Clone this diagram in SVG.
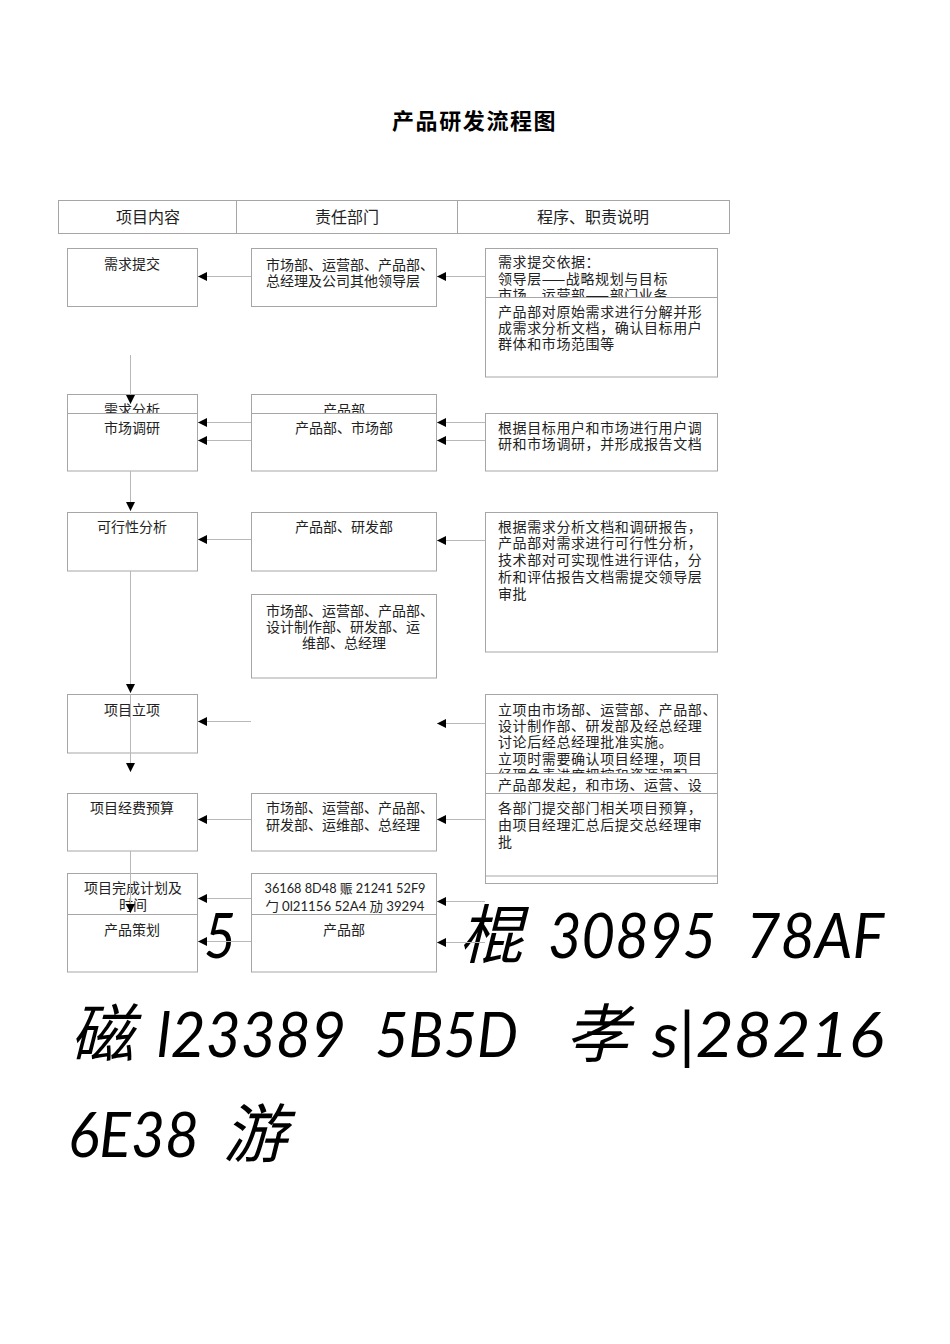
<svg xmlns="http://www.w3.org/2000/svg" width="950" height="1344" viewBox="0 0 950 1344">
<style>
.bg{fill:#fff}
.box{fill:#fff;stroke:#a6a6a6;stroke-width:1}
.hdr{fill:none;stroke:#a6a6a6;stroke-width:1}
.t{font-family:"Noto Sans CJK SC","Noto Sans",sans-serif;font-size:14px;fill:#222}
.tc{text-anchor:middle}
.p{letter-spacing:0.6px}
.h{font-family:"Noto Sans CJK SC","Noto Sans",sans-serif;font-size:16px;fill:#222;text-anchor:middle}
.title{font-family:"Noto Sans CJK SC",sans-serif;font-size:22px;font-weight:bold;fill:#000;letter-spacing:1.6px}
.code{font-family:Lato,"Noto Sans CJK SC",sans-serif;font-size:13px;fill:#222;text-anchor:middle}
.big{font-family:Lato,"Noto Sans CJK SC",sans-serif;font-size:62px;font-style:italic;fill:#000}
.bigc{font-family:"Noto Sans CJK SC",sans-serif;font-size:64px;font-style:italic;fill:#000}
.c{stroke:#b8b8b8;stroke-width:1;fill:none;marker-end:url(#ah)}
</style>
<defs>
<marker id="ah" viewBox="0 0 9 9" refX="9" refY="4.5" markerWidth="9" markerHeight="9" markerUnits="userSpaceOnUse" orient="auto">
<path d="M0,0 L9,4.5 L0,9 z" fill="#000"/>
</marker>
</defs>
<rect class="bg" x="0" y="0" width="950" height="1344"/>

<g id="title"><text class="title" x="392" y="129">产品研发流程图</text></g>

<g id="header">
<rect class="hdr" x="58.5" y="200.5" width="671" height="33"/>
<line class="hdr" x1="236.5" y1="200.5" x2="236.5" y2="233.5"/>
<line class="hdr" x1="457.5" y1="200.5" x2="457.5" y2="233.5"/>
<text class="h" x="148" y="223">项目内容</text>
<text class="h" x="347" y="223">责任部门</text>
<text class="h" x="593" y="223">程序、职责说明</text>
</g>

<g id="overflow-text">
<text class="big" x="172" y="958" textLength="64" lengthAdjust="spacingAndGlyphs">15</text>
<text class="bigc" x="459" y="958">棍</text>
<text class="big" x="548" y="958" textLength="168" lengthAdjust="spacingAndGlyphs">30895</text>
<text class="big" x="746" y="958" textLength="138" lengthAdjust="spacingAndGlyphs">78AF</text>
<text class="bigc" x="70" y="1057">磁</text>
<text class="big" x="157" y="1057" textLength="189" lengthAdjust="spacingAndGlyphs">l23389</text>
<text class="big" x="375" y="1057" textLength="143" lengthAdjust="spacingAndGlyphs">5B5D</text>
<text class="bigc" x="565" y="1057">孝</text>
<text class="big" x="652" y="1057" textLength="232" lengthAdjust="spacingAndGlyphs">s|28216</text>
<text class="big" x="68" y="1157" textLength="131" lengthAdjust="spacingAndGlyphs">6E38</text>
<text class="bigc" x="223" y="1157">游</text>
</g>

<g id="n-xuqiutijiao"><rect class="box" x="67.5" y="248.5" width="130" height="58"/><text class="t tc" x="132" y="269">需求提交</text></g>
<g id="d-row1"><rect class="box" x="251.5" y="248.5" width="185" height="58"/><text class="t" x="266" y="270">市场部、运营部、产品部、</text><text class="t" x="266" y="286">总经理及公司其他领导层</text></g>
<g id="p-row1a"><rect class="box" x="485.5" y="248.5" width="232" height="60"/><text class="t p" x="498" y="267">需求提交依据：</text><text class="t p" x="498" y="284">领导层——战略规划与目标</text><text class="t p" x="498" y="300">市场、运营部——部门业务</text></g>
<g id="p-row1b"><rect class="box" x="485.5" y="297.5" width="232" height="79.5"/><text class="t p" x="498" y="317">产品部对原始需求进行分解并形</text><text class="t p" x="498" y="333">成需求分析文档，确认目标用户</text><text class="t p" x="498" y="349">群体和市场范围等</text></g>

<g id="n-xuqiufenxi"><rect class="box" x="67.5" y="394.5" width="130" height="40"/><text class="t tc" x="132" y="415">需求分析</text></g>
<g id="n-shichangdiaoyan"><rect class="box" x="67.5" y="413.5" width="130" height="57.5"/><text class="t tc" x="132" y="433">市场调研</text></g>
<g id="d-row2a"><rect class="box" x="251.5" y="394.5" width="185" height="40"/><text class="t tc" x="344" y="415">产品部</text></g>
<g id="d-row2b"><rect class="box" x="251.5" y="413.5" width="185" height="57.5"/><text class="t tc" x="344" y="433">产品部、市场部</text></g>
<g id="p-row2"><rect class="box" x="485.5" y="413.5" width="232" height="57.5"/><text class="t p" x="498" y="433">根据目标用户和市场进行用户调</text><text class="t p" x="498" y="449">研和市场调研，并形成报告文档</text></g>

<g id="n-kexingxing"><rect class="box" x="67.5" y="512.5" width="130" height="58.5"/><text class="t tc" x="132" y="532">可行性分析</text></g>
<g id="d-row3"><rect class="box" x="251.5" y="512.5" width="185" height="58.5"/><text class="t tc" x="344" y="532">产品部、研发部</text></g>
<g id="p-row3"><rect class="box" x="485.5" y="512.5" width="232" height="139.5"/><text class="t p" x="498" y="532">根据需求分析文档和调研报告，</text><text class="t p" x="498" y="548">产品部对需求进行可行性分析，</text><text class="t p" x="498" y="565">技术部对可实现性进行评估，分</text><text class="t p" x="498" y="582">析和评估报告文档需提交领导层</text><text class="t p" x="498" y="599">审批</text></g>
<g id="d-row3b"><rect class="box" x="251.5" y="594.5" width="185" height="83.5"/><text class="t" x="266" y="616">市场部、运营部、产品部、</text><text class="t" x="266" y="632">设计制作部、研发部、运</text><text class="t" x="302" y="648">维部、总经理</text></g>

<g id="n-xiangmulixiang"><rect class="box" x="67.5" y="694.5" width="130" height="58.5"/><text class="t tc" x="132" y="715">项目立项</text></g>
<g id="p-row4"><rect class="box" x="485.5" y="694.5" width="232" height="90"/><text class="t p" x="498" y="715">立项由市场部、运营部、产品部、</text><text class="t p" x="498" y="731">设计制作部、研发部及经总经理</text><text class="t p" x="498" y="747">讨论后经总经理批准实施。</text><text class="t p" x="498" y="764">立项时需要确认项目经理，项目</text><text class="t p" x="498" y="780">经理负责进度把控和资源调配</text></g>
<g id="p-row5a"><rect class="box" x="485.5" y="773.5" width="232" height="110"/><text class="t p" x="498" y="790">产品部发起，和市场、运营、设</text></g>
<g id="p-row5b"><rect class="box" x="485.5" y="793.5" width="232" height="82.5"/><text class="t p" x="498" y="813">各部门提交部门相关项目预算，</text><text class="t p" x="498" y="830">由项目经理汇总后提交总经理审</text><text class="t p" x="498" y="847">批</text></g>

<g id="n-jingfei"><rect class="box" x="67.5" y="793.5" width="130" height="57.5"/><text class="t tc" x="132" y="813">项目经费预算</text></g>
<g id="d-row5"><rect class="box" x="251.5" y="793.5" width="185" height="57.5"/><text class="t" x="266" y="813">市场部、运营部、产品部、</text><text class="t" x="266" y="830">研发部、运维部、总经理</text></g>

<g id="n-jihua"><rect class="box" x="67.5" y="873.5" width="130" height="50"/><text class="t tc" x="133" y="893">项目完成计划及</text><text class="t tc" x="133" y="910">时间</text></g>
<g id="n-cehua"><rect class="box" x="67.5" y="914.5" width="130" height="57.5"/><text class="t tc" x="132" y="935">产品策划</text></g>
<g id="d-row6a"><rect class="box" x="251.5" y="873.5" width="185" height="50"/><text class="code" x="345" y="893" textLength="161" lengthAdjust="spacingAndGlyphs">36168 8D48 赈 21241 52F9</text><text class="code" x="345" y="911" textLength="159" lengthAdjust="spacingAndGlyphs">勹 0l21156 52A4 劢 39294</text></g>
<g id="d-row6b"><rect class="box" x="251.5" y="914.5" width="185" height="57.5"/><text class="t tc" x="344" y="935">产品部</text></g>

<g id="connectors">
<line class="c" x1="251" y1="276.5" x2="198" y2="276.5"/>
<line class="c" x1="485" y1="276.5" x2="437" y2="276.5"/>
<line class="c" x1="251" y1="422.5" x2="198" y2="422.5"/>
<line class="c" x1="251" y1="440.5" x2="198" y2="440.5"/>
<line class="c" x1="485" y1="422.5" x2="437" y2="422.5"/>
<line class="c" x1="485" y1="440.5" x2="437" y2="440.5"/>
<line class="c" x1="251" y1="539.5" x2="198" y2="539.5"/>
<line class="c" x1="485" y1="540.5" x2="437" y2="540.5"/>
<line class="c" x1="251" y1="721.5" x2="198" y2="721.5"/>
<line class="c" x1="485" y1="723.5" x2="437" y2="723.5"/>
<line class="c" x1="251" y1="819.5" x2="198" y2="819.5"/>
<line class="c" x1="485" y1="819.5" x2="437" y2="819.5"/>
<line class="c" x1="251" y1="898.5" x2="198" y2="898.5"/>
<line class="c" x1="251" y1="941.5" x2="198" y2="941.5"/>
<line class="c" x1="485" y1="901.5" x2="437" y2="901.5"/>
<line class="c" x1="485" y1="942.5" x2="437" y2="942.5"/>
<line class="c" x1="130.5" y1="355" x2="130.5" y2="404"/>
<line class="c" x1="130.5" y1="471" x2="130.5" y2="511"/>
<line class="c" x1="130.5" y1="571" x2="130.5" y2="693"/>
<line class="c" x1="130.5" y1="694" x2="130.5" y2="772"/>
<line class="c" x1="130.5" y1="851" x2="130.5" y2="913"/>
</g>
</svg>
